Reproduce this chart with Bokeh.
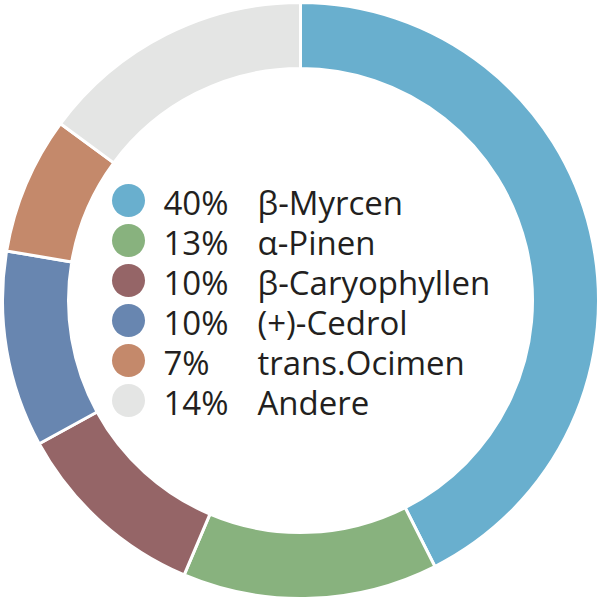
import math
from bokeh.plotting import figure
from bokeh.models import ColumnDataSource, Range1d
from bokeh.core.properties import value
from bokeh.embed import file_html
from bokeh.resources import INLINE

names = ["β-Myrcen", "α-Pinen", "β-Caryophyllen", "(+)-Cedrol", "trans.Ocimen", "Andere"]
shares = [40, 13, 10, 10, 7, 14]
colors = ["#69afce", "#88b27e", "#956567", "#6886b0", "#c4896b", "#e4e5e4"]

total = sum(shares)
starts, ends = [], []
cum = 0.0
for s in shares:
    starts.append(math.pi / 2 - 2 * math.pi * cum / total)
    cum += s
    ends.append(math.pi / 2 - 2 * math.pi * cum / total)

W, H = 600, 601
p = figure(width=W, height=H, output_backend="svg", toolbar_location=None,
           x_range=Range1d(-300, 300), y_range=Range1d(-301, 300),
           min_border=0, min_border_left=0, min_border_right=0,
           min_border_top=0, min_border_bottom=0)
p.axis.visible = False
p.grid.visible = False
p.outline_line_color = None
p.background_fill_color = "white"
p.border_fill_color = "white"

src = ColumnDataSource(dict(start=starts, end=ends, color=colors))
p.annular_wedge(x=0, y=0, inner_radius=232, outer_radius=298,
                start_angle="start", end_angle="end", direction="clock",
                fill_color="color", line_color="white", line_width=3, source=src)

row_y = [100 - 40 * i for i in range(len(names))]
pct_labels = [f"{s}%" for s in shares]
leg = ColumnDataSource(dict(y=row_y, yb=[y - 2 for y in row_y], color=colors,
                            pct=pct_labels, name=names))
p.circle(x=-172, y="y", radius=16.5, fill_color="color", line_color=None, source=leg)
p.text(x=-137, y="yb", text="pct", source=leg, text_font=value("Open Sans"),
       text_font_size="33px", text_color="#231f20", text_baseline="middle")
p.text(x=-43, y="yb", text="name", source=leg, text_font=value("Open Sans"),
       text_font_size="33px", text_color="#231f20", text_baseline="middle")

open("out.html", "w").write(file_html(p, INLINE))
